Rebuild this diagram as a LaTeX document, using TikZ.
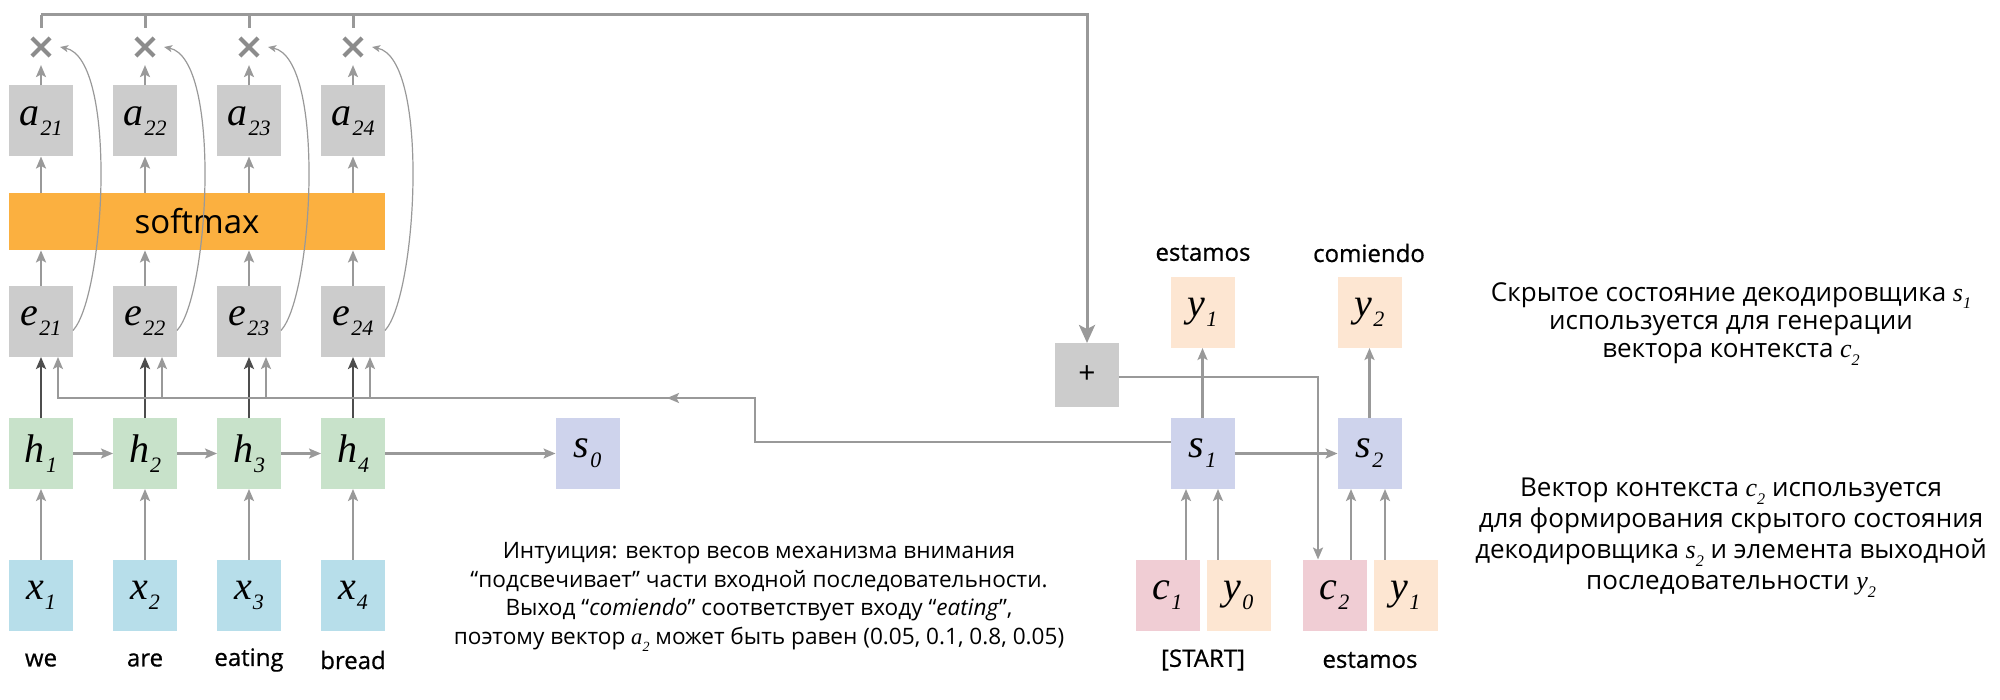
\documentclass[tikz,border=0pt]{standalone}
\usepackage{fontspec}
\usepackage{graphicx}
\setmainfont{Open Sans}
\newfontfamily\mf{Liberation Serif}
\newfontfamily\medf{Open Sans}[FakeBold=0.7]
\usetikzlibrary{arrows.meta,shapes.misc,calc}

\definecolor{gbox}{HTML}{CCCCCC}
\definecolor{orng}{HTML}{FBB040}
\definecolor{hgreen}{HTML}{C8E2CA}
\definecolor{xblue}{HTML}{B7DEEA}
\definecolor{slav}{HTML}{CED3EC}
\definecolor{ypeach}{HTML}{FDE6D2}
\definecolor{cpink}{HTML}{F0CDD4}
\definecolor{ln}{HTML}{999999}
\definecolor{dk}{HTML}{4D4D4D}

\newcommand{\bv}[2]{{\fontsize{20}{20}\selectfont\mf\itshape #1}\kern0.5pt\raisebox{-5pt}{\fontsize{11}{11}\selectfont\mf\itshape #2}}
\newcommand{\tv}[2]{{\mf\itshape #1}\raisebox{-0.3em}{\scalebox{0.62}{\mf\itshape #2}}}

\begin{document}
\begin{tikzpicture}[x=0.5pt,y=-0.5pt,
  bx/.style={minimum width=32pt,minimum height=35.5pt,inner sep=0pt,outer sep=0pt},
  ar/.style={draw=ln,line width=1.1pt,-{Stealth[length=6pt,width=5pt,inset=1.3pt]}},
  dar/.style={draw=dk,line width=1.3pt,-{Stealth[length=6pt,width=5pt,inset=1.3pt]}},
  thinar/.style={draw=ln,line width=0.6pt,-{Stealth[length=4pt,width=3.5pt,inset=1pt]}},
  topl/.style={draw=ln,line width=1.5pt},
  lbl/.style={font=\medf\fontsize{12}{12.5}\selectfont},
  mx/.style={cross out,draw={rgb,255:red,140;green,140;blue,140},line width=2.1pt,minimum size=7pt,inner sep=0pt}]
\useasboundingbox (0,0) rectangle (2000,700);

% encoder columns
\foreach \i/\cx/\w in {1/41/we,2/145/are,3/249/eating,4/353/bread}{
  \node[bx,fill=gbox] (a\i) at (\cx,121) {\bv{a}{2\i}};
  \node[bx,fill=gbox] (e\i) at (\cx,321.5) {\bv{e}{2\i}};
  \node[bx,fill=hgreen] (h\i) at (\cx,453.5) {\bv{h}{\i}};
  \node[bx,fill=xblue] (x\i) at (\cx,595) {\bv{x}{\i}};
  \node[mx] (m\i) at (\cx,47) {};
  \node[lbl] (w\i) at (\cx,660) {\w};
  \coordinate (t\i) at (\cx,15);
  \coordinate (b\i) at ($(e\i.south)+(17,0)$);
}
\node[fill=orng,minimum width=188pt,minimum height=28.5pt,inner sep=0pt,
  font=\fontsize{16.5}{17}\selectfont] (sm) at (197,221.5) {softmax};

\foreach \i in {1,2,3,4}{
  \draw[ar] (x\i) -- (h\i);
  \draw[dar] (h\i) -- (e\i);
  \draw[ar] (e\i) -- (e\i |- sm.south);
  \draw[ar] (sm.north -| a\i) -- (a\i);
  \draw[ar,shorten >=4.5pt] (a\i) -- (m\i);
  \draw[topl] (t\i) -- ++(0,13);
  \draw[thinar] ($(e\i.east)+(0,9)$) .. controls +(32,-35) and +(58,12) .. ($(m\i.east)+(10,0)$);
}

\node[bx,fill=slav] (s0) at (587.5,453.5) {\bv{s}{0}};
\draw[ar] (h1) -- (h2);
\draw[ar] (h2) -- (h3);
\draw[ar] (h3) -- (h4);
\draw[ar] (h4) -- (s0);

% decoder
\node[bx,fill=gbox,minimum height=32pt] (plus) at (1087,375) {\fontsize{15}{15}\selectfont +};
\node[bx,fill=ypeach] (y1t) at (1202.5,312.5) {\bv{y}{1}};
\node[bx,fill=ypeach] (y2t) at (1369.5,312.5) {\bv{y}{2}};
\node[bx,fill=slav] (s1) at (1202.5,453.5) {\bv{s}{1}};
\node[bx,fill=slav] (s2) at (1369.5,453.5) {\bv{s}{2}};
\node[bx,fill=cpink] (c1) at (1167.5,595) {\bv{c}{1}};
\node[bx,fill=ypeach] (y0) at (1238.5,595) {\bv{y}{0}};
\node[bx,fill=cpink] (c2) at (1334.5,595) {\bv{c}{2}};
\node[bx,fill=ypeach] (y1b) at (1405.5,595) {\bv{y}{1}};

\node[lbl] (lest) at (1203,253) {estamos};
\node[lbl] (lcom) at (1369,253) {comiendo};
\node[lbl] (lstart) at (1203,660) {[START]};
\node[lbl] (lest2) at (1370,660) {estamos};

\draw[ar] (s1) -- (y1t);
\draw[ar] (s2) -- (y2t);
\draw[ar] (s1) -- (s2);
\draw[ar] ($(c1.north)+(18.5,0)$) -- ($(s1.south)+(-16.5,0)$);
\draw[ar] ($(y0.north)+(-20.5,0)$) -- ($(s1.south)+(15.5,0)$);
\draw[ar] ($(c2.north)+(16.5,0)$) -- ($(s2.south)+(-18.5,0)$);
\draw[ar] ($(y1b.north)+(-20.5,0)$) -- ($(s2.south)+(15.5,0)$);

% top collector line
\coordinate (tc) at (plus.north |- t1);
\draw[topl,-{Stealth[length=9pt,width=8pt,inset=2pt]}] (t1) -- (tc) -- (plus.north);

% plus output to c2
\draw[ar] ($(plus.east)+(0,2)$) -| ($(c2.north)+(-16.5,0)$);

% s1 back to energies
\coordinate (k1) at (755,398);
\coordinate (ma) at (667,398);
\draw[ar] ($(s1.west)+(0,-11.5)$) -| (k1) -| (b1);
\draw[ar] (k1) -- (ma);
\foreach \i in {2,3,4}{
  \draw[ar] (b\i |- k1) -- (b\i);
}

% texts
\node[align=center,font=\fontsize{11.3}{14.3}\selectfont] (note) at (759,597)
 {Интуиция: вектор весов механизма внимания\\
  “подсвечивает” части входной последовательности.\\
  Выход “\textit{comiendo}” соответствует входу “\textit{eating}”,\\
  поэтому вектор \tv{a}{2} может быть равен (0.05, 0.1, 0.8, 0.05)};

\node[align=center,font=\fontsize{13}{14.2}\selectfont] (r1) at (1731,324)
 {Скрытое состояние декодировщика \tv{s}{1}\\
  используется для генерации\\
  вектора контекста \tv{c}{2}};

\node[align=center,font=\fontsize{13}{15.5}\selectfont] (r2) at (1731,538)
 {Вектор контекста \tv{c}{2} используется\\
  для формирования скрытого состояния\\
  декодировщика \tv{s}{2} и элемента выходной\\
  последовательности \tv{y}{2}};
\end{tikzpicture}
\end{document}
